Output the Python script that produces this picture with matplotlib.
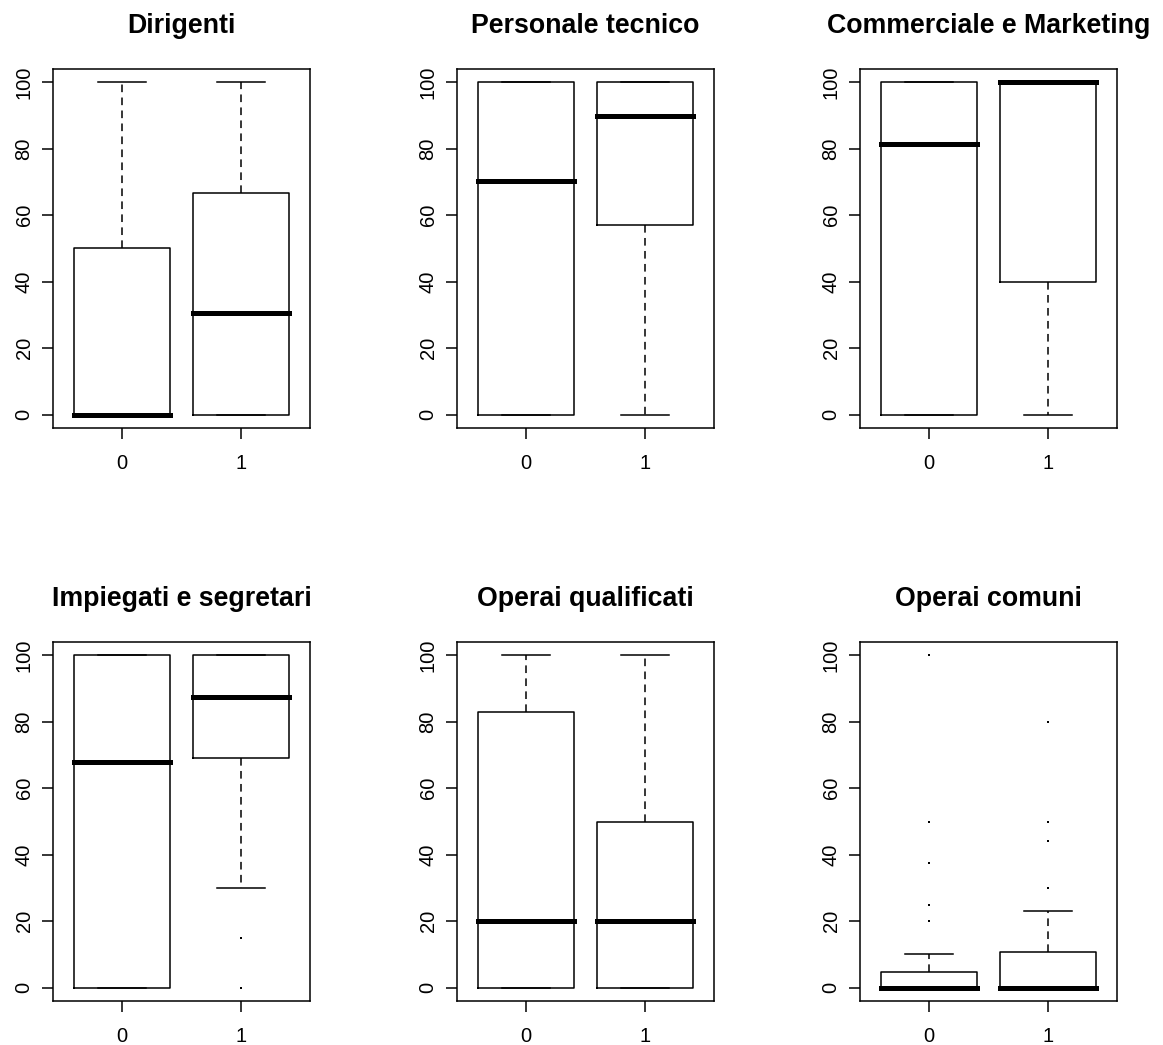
import matplotlib
matplotlib.use("Agg")
import matplotlib.pyplot as plt

plt.rcParams['font.family'] = ['Liberation Sans', 'DejaVu Sans']

titles = ["Dirigenti", "Personale tecnico", "Commerciale e Marketing",
          "Impiegati e segretari", "Operai qualificati", "Operai comuni"]
groups = ["0", "1"]

# per panel: [group0, group1]
whislo = [[0, 0], [0, 0], [0, 0], [0, 30], [0, 0], [0, 0]]
q1 = [[0, 0], [0, 57], [0, 40], [0, 69], [0, 0], [0, 0]]
med = [[0, 30.5], [70.2, 90], [81.5, 100], [67.8, 87.5], [20, 20], [0, 0]]
q3 = [[50, 66.7], [100, 100], [100, 100], [100, 100], [82.8, 50], [4.7, 10.7]]
whishi = [[100, 100], [100, 100], [100, 100], [100, 100], [100, 100], [10, 23.2]]
fliers = [[[], []], [[], []], [[], []], [[], [15, 0]], [[], []],
          [[20, 25, 37.5, 50, 100], [30, 44, 50, 80]]]
yticks = [0, 20, 40, 60, 80, 100]

W, H = 1163, 1045
fig = plt.figure(figsize=(W / 100, H / 100), dpi=100)

lefts = [53, 457, 860]
tops = [69, 642]
aw, ah = 257, 359

for i, t in enumerate(titles):
    r, c = divmod(i, 3)
    l, tp = lefts[c], tops[r]
    ax = fig.add_axes([l / W, 1 - (tp + ah) / H, aw / W, ah / H])
    stats = []
    for g in range(2):
        stats.append(dict(med=med[i][g], q1=q1[i][g], q3=q3[i][g],
                          whislo=whislo[i][g], whishi=whishi[i][g],
                          fliers=fliers[i][g], label=groups[g]))
    ax.bxp(stats, positions=[1, 2], widths=0.8, capwidths=0.4,
           boxprops=dict(color='black', linewidth=1.1),
           whiskerprops=dict(color='black', linewidth=1.1, linestyle=(0, (5, 3.5))),
           capprops=dict(color='black', linewidth=1.1),
           medianprops=dict(color='black', linewidth=3.6, solid_capstyle='projecting'),
           flierprops=dict(marker='s', markersize=1.7, markerfacecolor='black',
                           markeredgecolor='black', markeredgewidth=0, linestyle='none'))
    ax.set_xlim(0.42, 2.58)
    ax.set_ylim(-4, 104)
    ax.set_yticks(yticks)
    ax.set_yticklabels([str(v) for v in yticks], rotation=90, va='center', ha='right')
    ax.set_xticks([1, 2])
    ax.set_xticklabels(groups)
    ax.tick_params(axis='both', direction='out', length=8, width=1.1, labelsize=14.5,
                   colors='black')
    ax.tick_params(axis='x', pad=11)
    ax.tick_params(axis='y', pad=6)
    for s in ax.spines.values():
        s.set_linewidth(1.1)
        s.set_color('black')
    fig.text((l + aw / 2) / W, 1 - (tp - 36) / H, t, ha='center', va='baseline',
             fontsize=19.3, fontweight='bold')

fig.savefig("out.png", dpi=100)
